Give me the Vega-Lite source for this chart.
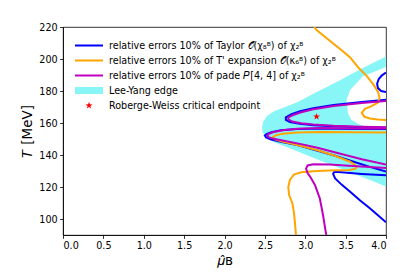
{
  "$schema": "https://vega.github.io/schema/vega-lite/v6.json",
  "width": 323,
  "height": 208,
  "autosize": {"type": "none"},
  "padding": {"left": 63, "top": 27, "right": 29, "bottom": 42},
  "config": {
    "font": "DejaVu Sans",
    "view": {"stroke": "black", "strokeWidth": 0.8},
    "axis": {
      "grid": false, "domainColor": "black", "domainWidth": 0.8, "tickColor": "black", "tickWidth": 0.8,
      "tickSize": 3.4, "labelFont": "DejaVu Sans", "labelFontSize": 9.6, "labelColor": "black", "labelOverlap": false,
      "labelPadding": 2.5, "titleFont": "DejaVu Sans", "titleFontWeight": "normal", "titleColor": "black", "titleFontSize": 13.5
    }
  },
  "datasets": {
    "cyan": [
      {"T": 120.3, "x": 4.0}, {"T": 124.4, "x": 3.8}, {"T": 128.3, "x": 3.6}, {"T": 132.3, "x": 3.4},
      {"T": 136.2, "x": 3.2}, {"T": 140.3, "x": 3.0}, {"T": 144.3, "x": 2.8}, {"T": 148.3, "x": 2.6},
      {"T": 151, "x": 2.51}, {"T": 154.5, "x": 2.47}, {"T": 157.7, "x": 2.465}, {"T": 161, "x": 2.48},
      {"T": 164.5, "x": 2.53}, {"T": 167.5, "x": 2.62}, {"T": 170, "x": 2.75}, {"T": 173, "x": 2.9},
      {"T": 178.3, "x": 3.1}, {"T": 186, "x": 3.4}, {"T": 194, "x": 3.7}, {"T": 201.5, "x": 4.0}
    ],
    "hole": [
      {"T": 156, "x": 4.0}, {"T": 157.5, "x": 3.8}, {"T": 158.75, "x": 3.68}, {"T": 162, "x": 3.57},
      {"T": 166, "x": 3.53}, {"T": 174.4, "x": 3.51}, {"T": 180.6, "x": 3.556}, {"T": 189, "x": 3.71},
      {"T": 195, "x": 4.0}
    ],
    "curves": [
      {"c": "B1", "col": "b", "i": 0, "x": 4.0, "T": 191.5}, {"c": "B1", "col": "b", "i": 1, "x": 3.95, "T": 189.8},
      {"c": "B1", "col": "b", "i": 2, "x": 3.91, "T": 187.5}, {"c": "B1", "col": "b", "i": 3, "x": 3.89, "T": 184.5},
      {"c": "B1", "col": "b", "i": 4, "x": 3.9, "T": 181.8}, {"c": "B1", "col": "b", "i": 5, "x": 3.94, "T": 180.0},
      {"c": "B1", "col": "b", "i": 6, "x": 4.0, "T": 179.3},

      {"c": "B2", "col": "b", "i": 0, "x": 4.0, "T": 174.5}, {"c": "B2", "col": "b", "i": 1, "x": 3.7, "T": 173.2},
      {"c": "B2", "col": "b", "i": 2, "x": 3.35, "T": 171.3}, {"c": "B2", "col": "b", "i": 3, "x": 3.1, "T": 169.2},
      {"c": "B2", "col": "b", "i": 4, "x": 2.935, "T": 167.3}, {"c": "B2", "col": "b", "i": 5, "x": 2.83, "T": 165.5},
      {"c": "B2", "col": "b", "i": 6, "x": 2.76, "T": 163.5}, {"c": "B2", "col": "b", "i": 7, "x": 2.76, "T": 162},
      {"c": "B2", "col": "b", "i": 8, "x": 2.81, "T": 160.6}, {"c": "B2", "col": "b", "i": 9, "x": 2.93, "T": 159.5},
      {"c": "B2", "col": "b", "i": 10, "x": 3.1, "T": 158.6}, {"c": "B2", "col": "b", "i": 11, "x": 3.35, "T": 157.9},
      {"c": "B2", "col": "b", "i": 12, "x": 3.7, "T": 157.3}, {"c": "B2", "col": "b", "i": 13, "x": 4.0, "T": 157.0},

      {"c": "B3", "col": "b", "i": 0, "x": 4.0, "T": 156.2}, {"c": "B3", "col": "b", "i": 1, "x": 3.6, "T": 156.3},
      {"c": "B3", "col": "b", "i": 2, "x": 3.2, "T": 156.5}, {"c": "B3", "col": "b", "i": 3, "x": 2.9, "T": 156.3},
      {"c": "B3", "col": "b", "i": 4, "x": 2.7, "T": 155.5}, {"c": "B3", "col": "b", "i": 5, "x": 2.58, "T": 154.3},
      {"c": "B3", "col": "b", "i": 6, "x": 2.52, "T": 153}, {"c": "B3", "col": "b", "i": 7, "x": 2.5, "T": 152.2},
      {"c": "B3", "col": "b", "i": 8, "x": 2.515, "T": 151}, {"c": "B3", "col": "b", "i": 9, "x": 2.57, "T": 149.8},
      {"c": "B3", "col": "b", "i": 10, "x": 2.68, "T": 148.4}, {"c": "B3", "col": "b", "i": 11, "x": 2.9, "T": 146.2},
      {"c": "B3", "col": "b", "i": 12, "x": 3.1, "T": 143.4}, {"c": "B3", "col": "b", "i": 13, "x": 3.35, "T": 139.8},
      {"c": "B3", "col": "b", "i": 14, "x": 3.6, "T": 135.8}, {"c": "B3", "col": "b", "i": 15, "x": 3.8, "T": 132.6},
      {"c": "B3", "col": "b", "i": 16, "x": 4.0, "T": 129.6},

      {"c": "B4", "col": "b", "i": 0, "x": 4.0, "T": 127.3}, {"c": "B4", "col": "b", "i": 1, "x": 3.7, "T": 128.2},
      {"c": "B4", "col": "b", "i": 2, "x": 3.45, "T": 129.2}, {"c": "B4", "col": "b", "i": 3, "x": 3.36, "T": 129.5},
      {"c": "B4", "col": "b", "i": 4, "x": 3.345, "T": 128.2}, {"c": "B4", "col": "b", "i": 5, "x": 3.37, "T": 125.4},
      {"c": "B4", "col": "b", "i": 6, "x": 3.45, "T": 121.5}, {"c": "B4", "col": "b", "i": 7, "x": 3.556, "T": 117},
      {"c": "B4", "col": "b", "i": 8, "x": 3.68, "T": 111.5}, {"c": "B4", "col": "b", "i": 9, "x": 3.8, "T": 106.7},
      {"c": "B4", "col": "b", "i": 10, "x": 3.9, "T": 102.3}, {"c": "B4", "col": "b", "i": 11, "x": 4.0, "T": 98},

      {"c": "O1", "col": "o", "i": 0, "x": 3.11, "T": 220}, {"c": "O1", "col": "o", "i": 1, "x": 3.14, "T": 218.1},
      {"c": "O1", "col": "o", "i": 2, "x": 3.3, "T": 211.5}, {"c": "O1", "col": "o", "i": 3, "x": 3.45, "T": 205.5},
      {"c": "O1", "col": "o", "i": 4, "x": 3.556, "T": 201}, {"c": "O1", "col": "o", "i": 5, "x": 3.66, "T": 194.5},
      {"c": "O1", "col": "o", "i": 6, "x": 3.76, "T": 189.5}, {"c": "O1", "col": "o", "i": 7, "x": 3.845, "T": 184},
      {"c": "O1", "col": "o", "i": 8, "x": 3.9, "T": 179.6}, {"c": "O1", "col": "o", "i": 9, "x": 3.92, "T": 175.8},
      {"c": "O1", "col": "o", "i": 10, "x": 3.9, "T": 172.8}, {"c": "O1", "col": "o", "i": 11, "x": 3.82, "T": 170.5},
      {"c": "O1", "col": "o", "i": 12, "x": 3.74, "T": 168.8}, {"c": "O1", "col": "o", "i": 13, "x": 3.7, "T": 166.4},
      {"c": "O1", "col": "o", "i": 14, "x": 3.73, "T": 164}, {"c": "O1", "col": "o", "i": 15, "x": 3.8, "T": 162.8},
      {"c": "O1", "col": "o", "i": 16, "x": 3.9, "T": 162.2}, {"c": "O1", "col": "o", "i": 17, "x": 4.0, "T": 161.9},

      {"c": "O2", "col": "o", "i": 0, "x": 4.0, "T": 154}, {"c": "O2", "col": "o", "i": 1, "x": 3.6, "T": 154.2},
      {"c": "O2", "col": "o", "i": 2, "x": 3.2, "T": 154.3}, {"c": "O2", "col": "o", "i": 3, "x": 2.9, "T": 154},
      {"c": "O2", "col": "o", "i": 4, "x": 2.72, "T": 153.3}, {"c": "O2", "col": "o", "i": 5, "x": 2.63, "T": 152.3},
      {"c": "O2", "col": "o", "i": 6, "x": 2.6, "T": 151.2}, {"c": "O2", "col": "o", "i": 7, "x": 2.62, "T": 149.9},
      {"c": "O2", "col": "o", "i": 8, "x": 2.7, "T": 148.6}, {"c": "O2", "col": "o", "i": 9, "x": 2.85, "T": 146.8},
      {"c": "O2", "col": "o", "i": 10, "x": 3.0, "T": 145}, {"c": "O2", "col": "o", "i": 11, "x": 3.14, "T": 143.1},
      {"c": "O2", "col": "o", "i": 12, "x": 3.35, "T": 139.8}, {"c": "O2", "col": "o", "i": 13, "x": 3.556, "T": 135.8},
      {"c": "O2", "col": "o", "i": 14, "x": 3.635, "T": 133}, {"c": "O2", "col": "o", "i": 15, "x": 3.625, "T": 131.5},
      {"c": "O2", "col": "o", "i": 16, "x": 3.55, "T": 130.6}, {"c": "O2", "col": "o", "i": 17, "x": 3.3, "T": 130.3},
      {"c": "O2", "col": "o", "i": 18, "x": 3.14, "T": 130.0}, {"c": "O2", "col": "o", "i": 19, "x": 2.95, "T": 129.2},
      {"c": "O2", "col": "o", "i": 20, "x": 2.86, "T": 127.8}, {"c": "O2", "col": "o", "i": 21, "x": 2.81, "T": 124.4},
      {"c": "O2", "col": "o", "i": 22, "x": 2.79, "T": 120}, {"c": "O2", "col": "o", "i": 23, "x": 2.8, "T": 115},
      {"c": "O2", "col": "o", "i": 24, "x": 2.84, "T": 110}, {"c": "O2", "col": "o", "i": 25, "x": 2.86, "T": 104},
      {"c": "O2", "col": "o", "i": 26, "x": 2.87, "T": 99}, {"c": "O2", "col": "o", "i": 27, "x": 2.88, "T": 93},
      {"c": "O2", "col": "o", "i": 28, "x": 2.885, "T": 90},

      {"c": "M2", "col": "m", "i": 0, "x": 4.0, "T": 173.8}, {"c": "M2", "col": "m", "i": 1, "x": 3.7, "T": 172.5},
      {"c": "M2", "col": "m", "i": 2, "x": 3.35, "T": 170.6}, {"c": "M2", "col": "m", "i": 3, "x": 3.1, "T": 168.6},
      {"c": "M2", "col": "m", "i": 4, "x": 2.95, "T": 166.7}, {"c": "M2", "col": "m", "i": 5, "x": 2.85, "T": 165},
      {"c": "M2", "col": "m", "i": 6, "x": 2.79, "T": 163.5}, {"c": "M2", "col": "m", "i": 7, "x": 2.79, "T": 162.2},
      {"c": "M2", "col": "m", "i": 8, "x": 2.84, "T": 160.9}, {"c": "M2", "col": "m", "i": 9, "x": 2.95, "T": 159.9},
      {"c": "M2", "col": "m", "i": 10, "x": 3.1, "T": 159.1}, {"c": "M2", "col": "m", "i": 11, "x": 3.35, "T": 158.3},
      {"c": "M2", "col": "m", "i": 12, "x": 3.7, "T": 157.6}, {"c": "M2", "col": "m", "i": 13, "x": 4.0, "T": 157.3},

      {"c": "M3", "col": "m", "i": 0, "x": 4.0, "T": 156.5}, {"c": "M3", "col": "m", "i": 1, "x": 3.6, "T": 156.6},
      {"c": "M3", "col": "m", "i": 2, "x": 3.2, "T": 156.8}, {"c": "M3", "col": "m", "i": 3, "x": 2.9, "T": 156.4},
      {"c": "M3", "col": "m", "i": 4, "x": 2.72, "T": 155.4}, {"c": "M3", "col": "m", "i": 5, "x": 2.6, "T": 154.2},
      {"c": "M3", "col": "m", "i": 6, "x": 2.545, "T": 153}, {"c": "M3", "col": "m", "i": 7, "x": 2.53, "T": 152.2},
      {"c": "M3", "col": "m", "i": 8, "x": 2.545, "T": 151.2}, {"c": "M3", "col": "m", "i": 9, "x": 2.61, "T": 150.1},
      {"c": "M3", "col": "m", "i": 10, "x": 2.75, "T": 148.8}, {"c": "M3", "col": "m", "i": 11, "x": 2.95, "T": 146.8},
      {"c": "M3", "col": "m", "i": 12, "x": 3.15, "T": 144.5}, {"c": "M3", "col": "m", "i": 13, "x": 3.4, "T": 141.2},
      {"c": "M3", "col": "m", "i": 14, "x": 3.7, "T": 137.3}, {"c": "M3", "col": "m", "i": 15, "x": 4.0, "T": 134},

      {"c": "M4", "col": "m", "i": 0, "x": 4.0, "T": 131.8}, {"c": "M4", "col": "m", "i": 1, "x": 3.64, "T": 133},
      {"c": "M4", "col": "m", "i": 2, "x": 3.3, "T": 134}, {"c": "M4", "col": "m", "i": 3, "x": 3.1, "T": 134.2},
      {"c": "M4", "col": "m", "i": 4, "x": 3.03, "T": 133.5}, {"c": "M4", "col": "m", "i": 5, "x": 3.01, "T": 131.5},
      {"c": "M4", "col": "m", "i": 6, "x": 3.03, "T": 128.5}, {"c": "M4", "col": "m", "i": 7, "x": 3.06, "T": 126.5},
      {"c": "M4", "col": "m", "i": 8, "x": 3.12, "T": 121.25}, {"c": "M4", "col": "m", "i": 9, "x": 3.18, "T": 112.9},
      {"c": "M4", "col": "m", "i": 10, "x": 3.22, "T": 102.5}, {"c": "M4", "col": "m", "i": 11, "x": 3.25, "T": 93},
      {"c": "M4", "col": "m", "i": 12, "x": 3.26, "T": 90}
    ],
    "star": [
      {"x": 3.14, "T": 164, "s": "Roberge-Weiss critical endpoint"}
    ]
  },
  "encoding": {
    "x": {"field": "x", "type": "quantitative", "scale": {"domain": [0, 4], "nice": false, "zero": false},
          "axis": {"values": [0, 0.5, 1, 1.5, 2, 2.5, 3, 3.5, 4], "format": ".1f", "title": "𝜇̂ʙ", "titlePadding": 3}},
    "y": {"field": "T", "type": "quantitative", "scale": {"domain": [90, 220], "nice": false, "zero": false},
          "axis": {"values": [100, 120, 140, 160, 180, 200, 220], "title": "𝑇 [MeV]", "titlePadding": 4, "labelOverlap": false}}
  },
  "layer": [
    {
      "data": {"name": "cyan"},
      "mark": {"type": "area", "orient": "horizontal", "color": "#88f6f6", "opacity": 1, "clip": true},
      "encoding": {"x2": {"datum": 4}}
    },
    {
      "data": {"name": "hole"},
      "mark": {"type": "area", "orient": "horizontal", "color": "white", "opacity": 1, "clip": true},
      "encoding": {"x2": {"datum": 4}}
    },
    {
      "data": {"name": "curves"},
      "mark": {"type": "line", "strokeWidth": 2, "clip": true},
      "encoding": {
        "detail": {"field": "c"},
        "order": {"field": "i", "type": "quantitative"},
        "stroke": {"field": "col", "type": "nominal", "scale": {"domain": ["b", "o", "m"], "range": ["#0000ff", "#ffa500", "#bf00bf"]}, "legend": null}
      }
    },
    {
      "data": {"name": "star"},
      "mark": {"type": "point", "filled": true, "opacity": 1, "size": 784, "strokeWidth": 0},
      "encoding": {
        "color": {
          "field": "s", "type": "nominal",
          "scale": {
            "domain": ["relative errors 10% of Taylor 𝒪(χ₈ᴮ) of χ₂ᴮ", "relative errors 10% of T' expansion 𝒪(κ₆ᴮ) of χ₂ᴮ", "relative errors 10% of pade 𝑃[4, 4] of χ₂ᴮ", "Lee-Yang edge", "Roberge-Weiss critical endpoint"],
            "range": ["#0000ff", "#ffa500", "#bf00bf", "#88f6f6", "#ff0000"]
          },
          "legend": {"title": null, "orient": "top-left", "offset": 4, "padding": 8, "labelFontSize": 9.6, "labelFont": "DejaVu Sans", "labelLimit": 0, "clipHeight": 13, "rowPadding": 2, "labelOffset": 6, "symbolStrokeWidth": 0, "symbolSize": 784}
        },
        "shape": {
          "field": "s", "type": "nominal",
          "scale": {
            "domain": ["relative errors 10% of Taylor 𝒪(χ₈ᴮ) of χ₂ᴮ", "relative errors 10% of T' expansion 𝒪(κ₆ᴮ) of χ₂ᴮ", "relative errors 10% of pade 𝑃[4, 4] of χ₂ᴮ", "Lee-Yang edge", "Roberge-Weiss critical endpoint"],
            "range": [
              "M-1,-0.07L1,-0.07L1,0.07L-1,0.07Z",
              "M-1,-0.07L1,-0.07L1,0.07L-1,0.07Z",
              "M-1,-0.07L1,-0.07L1,0.07L-1,0.07Z",
              "M-1,-0.25L1,-0.25L1,0.25L-1,0.25Z",
              "M0,-0.26L0.0617,-0.0849L0.2473,-0.0803L0.0999,0.0324L0.1528,0.2103L0,0.105L-0.1528,0.2103L-0.0999,0.0324L-0.2473,-0.0803L-0.0617,-0.0849Z"
            ]
          },
          "legend": {"title": null, "orient": "top-left", "offset": 4, "padding": 8, "labelFontSize": 9.6, "labelFont": "DejaVu Sans", "labelLimit": 0, "clipHeight": 13, "rowPadding": 2, "labelOffset": 6, "symbolStrokeWidth": 0, "symbolSize": 784}
        }
      }
    }
  ]
}
